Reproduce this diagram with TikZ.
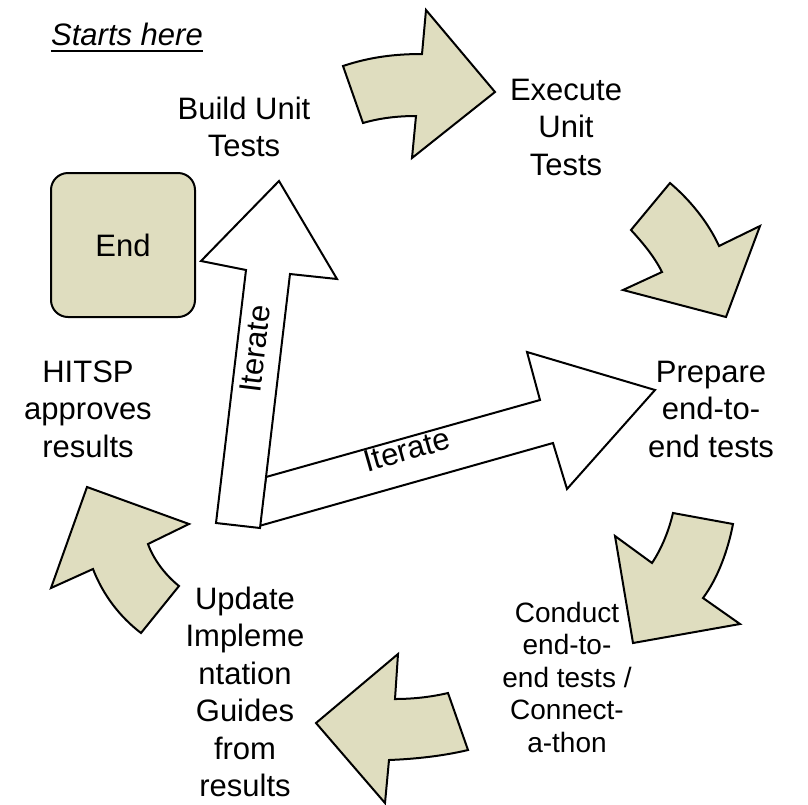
\documentclass[tikz,border=0pt]{standalone}
\usepackage{fontspec}
\setmainfont{Liberation Sans}
\definecolor{tan}{RGB}{223,221,191}
\begin{document}
\begin{tikzpicture}[x=1pt,y=-1pt,
  blockarrow/.style={fill=tan,draw=black,line width=2pt,line join=miter},
  whitearrow/.style={fill=white,draw=black,line width=2pt,line join=miter},
  lbl/.style={align=center,inner sep=0pt,font=\fontsize{31}{37.5}\selectfont},
  smalllbl/.style={align=center,inner sep=0pt,font=\fontsize{28}{32.5}\selectfont}]
\useasboundingbox (0,0) rectangle (808,804);

% curved block arrows round the cycle
\draw[blockarrow] (343,66) .. controls (370,57) and (395,54) .. (422,54)
  -- (426,10) -- (495,92) -- (412,158) -- (416,116)
  .. controls (398,116) and (380,118) .. (363,123) -- cycle;
\draw[blockarrow] (670,183) .. controls (690,200) and (708,222) .. (719,246)
  -- (760,226) -- (726,317) -- (623,290) -- (662,272)
  .. controls (654,256) and (642,242) .. (631,230) -- cycle;
\draw[blockarrow] (673,513) -- (733,524)
  .. controls (728,550) and (718,578) .. (703,598)
  -- (740,624) -- (633,643) -- (615,536) -- (652,563)
  .. controls (662,548) and (669,530) .. (673,513) -- cycle;
\draw[blockarrow] (316,723) -- (398,654) -- (395,699)
  .. controls (413,699) and (431,697) .. (448,693)
  -- (468,750) .. controls (443,756) and (415,759) .. (389,760)
  -- (385,803) -- cycle;
\draw[blockarrow] (87,487) -- (189,524) -- (148,544)
  .. controls (153,558) and (164,574) .. (179,586)
  -- (141,633) .. controls (120,617) and (103,595) .. (93,569)
  -- (51,588) -- cycle;

% end box
\node[draw=black,fill=tan,line width=2pt,rounded corners=17pt,
  minimum width=144pt,minimum height=144pt,inner sep=0pt,
  font=\fontsize{31}{37.5}\selectfont] (endbox) at (123,245) {End};

% iteration arrows
\draw[whitearrow] (266,477) -- (540,400) -- (527,352) -- (655,390)
  -- (567,489) -- (553,443) -- (259,526) -- cycle;
\draw[whitearrow] (279,181) -- (337,279) -- (290,274) -- (260,528)
  -- (216,523) -- (246,270) -- (201,261) -- cycle;

\node[lbl,rotate=83] (itv) at (255,349) {Iterate};
\node[lbl,rotate=16] (ith) at (407,450) {Iterate};

% step labels
\node[lbl,anchor=base] (start) at (127,45) {\itshape Starts here};
\draw[line width=2pt] ([yshift=-6pt]start.base west) -- ([yshift=-6pt]start.base east);
\node[lbl] (build) at (244,127) {Build Unit\\Tests};
\node[lbl] (exec) at (566,127) {Execute\\Unit\\Tests};
\node[lbl] (prep) at (711,409) {Prepare\\end-to-\\end tests};
\node[smalllbl] (conduct) at (567,677) {Conduct\\end-to-\\end tests /\\Connect-\\a-thon};
\node[lbl] (update) at (245,692) {Update\\Impleme\\ntation\\Guides\\from\\results};
\node[lbl] (hitsp) at (88,409) {HITSP\\approves\\results};
\end{tikzpicture}
\end{document}
